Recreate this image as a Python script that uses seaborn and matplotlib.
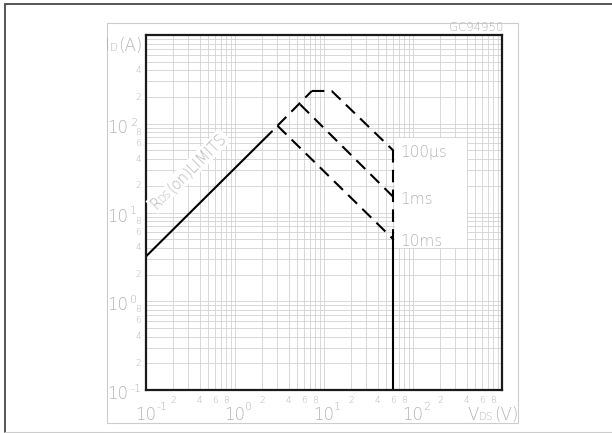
import numpy as np
import pandas as pd
import matplotlib
matplotlib.use("Agg")
import matplotlib.pyplot as plt
from matplotlib.patches import Rectangle
from matplotlib.lines import Line2D
from matplotlib.ticker import LogLocator, NullFormatter
from matplotlib.transforms import IdentityTransform
import seaborn as sns

# ---------------- data ----------------
vds_rds = [0.1, 2.6]
id_rds = [3.2, 82]
vds_rds_ext = [3.0, 7.3]
id_rds_ext = [95, 234]
vds_100us = [7.3, 12.2, 60]
id_100us = [234, 234, 50]
vds_1ms = [5.4, 60]
id_1ms = [165, 15]
vds_10ms = [3.0, 60]
id_10ms = [95, 5.0]
vds_lim_dash = [60, 60]
id_lim_dash = [50, 5.0]
vds_lim_solid = [60, 60]
id_lim_solid = [5.0, 0.1]

curve_names = ["100\u00b5s", "1ms", "10ms"]
curve_end_v = [60, 60, 60]
curve_end_i = [50, 15, 5.0]

x_decades = [0.1, 1, 10, 100]
y_decades = [0.1, 1, 10, 100]
decade_exps = ["-1", "0", "1", "2"]
minor_mults = [2, 4, 6, 8]
y_top_minor_mults = [2, 4]
x_limits = (0.1, 1000)
y_limits = (0.1, 1000)

x_title = [("V", 12), ("DS", 7.5), ("(V)", 12)]
y_title = [("I", 12), ("D", 7.5), ("(A)", 12)]
rds_title = [("R", 10.5), ("DS", 7), ("(on)LIMITS", 10.5)]
code_text = "GC94950"

# ---------------- build table ----------------
segments = [
    ("rds", "solid", vds_rds, id_rds),
    ("rds_ext", "dashed", vds_rds_ext, id_rds_ext),
    ("100us", "dashed", vds_100us, id_100us),
    ("1ms", "dashed", vds_1ms, id_1ms),
    ("10ms", "dashed", vds_10ms, id_10ms),
    ("lim_d", "dashed", vds_lim_dash, id_lim_dash),
    ("lim_s", "solid", vds_lim_solid, id_lim_solid),
]
rows = []
for name, kind, vs, is_ in segments:
    for k, (v, i) in enumerate(zip(vs, is_)):
        rows.append({"seg": name, "kind": kind, "order": k, "V": v, "I": i})
df = pd.DataFrame(rows)

# ---------------- style ----------------
sns.set_style("white")
plt.rcParams["font.family"] = ["DejaVu Sans"]
GRAY = "#b4b4b4"
FW = "light"
W, H = 612, 433

fig = plt.figure(figsize=(W / 100, H / 100), dpi=100)
ax = fig.add_axes([146 / W, 43 / H, 356 / W, 355 / H])
ax.set_xscale("log")
ax.set_yscale("log")
ax.set_xlim(*x_limits)
ax.set_ylim(*y_limits)

# white background behind curve labels
ax.add_patch(Rectangle((0.70, 0.40), 0.202, 0.31, transform=ax.transAxes,
                       facecolor="white", edgecolor="none", zorder=1.5))

sns.lineplot(data=df, x="V", y="I", units="seg", estimator=None, sort=False,
             style="kind", dashes={"solid": "", "dashed": (6, 3.5)},
             color="black", linewidth=1.5, legend=False, ax=ax, zorder=3)

for axis in (ax.xaxis, ax.yaxis):
    axis.set_major_locator(LogLocator(base=10, numticks=10))
    axis.set_minor_locator(LogLocator(base=10, subs=np.arange(2, 10), numticks=10))
    axis.set_minor_formatter(NullFormatter())
ax.grid(True, which="both", color="#d2d2d2", linewidth=0.6, zorder=0)
ax.set_axisbelow(True)
ax.tick_params(which="both", length=0, labelbottom=False, labelleft=False)
ax.set_xlabel("")
ax.set_ylabel("")
for sp in ax.spines.values():
    sp.set_color("#1a1a1a")
    sp.set_linewidth(1.6)
    sp.set_zorder(4)

# ---------------- tick labels ----------------
def ann(text, xy, xycoords, off, size, ha, va):
    ax.annotate(text, xy=xy, xycoords=xycoords, xytext=off,
                textcoords="offset pixels", fontsize=size, color=GRAY,
                ha=ha, va=va, fontweight=FW, annotation_clip=False)

for d, e in zip(x_decades, decade_exps):
    ann("10", (d, 0), ("data", "axes fraction"), (0, -30), 12, "center", "baseline")
    ann(e, (d, 0), ("data", "axes fraction"), (10, -20), 8, "left", "baseline")
    for m in minor_mults:
        ann(str(m), (d * m, 0), ("data", "axes fraction"), (0, -6), 6.5, "center", "top")

for d, e in zip(y_decades, decade_exps):
    ann("10", (0, d), ("axes fraction", "data"), (-18, -9), 12, "right", "baseline")
    ann(e, (0, d), ("axes fraction", "data"), (-16, -2), 8, "left", "baseline")
    mults = y_top_minor_mults if d == y_decades[-1] else minor_mults
    for m in mults:
        ann(str(m), (0, d * m), ("axes fraction", "data"), (-5, 0), 6.5, "right", "center")

# curve labels
for name, v, i in zip(curve_names, curve_end_v, curve_end_i):
    ann(name, (v, i), "data", (7, -7), 11, "left", "baseline")

# ---------------- composite texts (pixel coordinates) ----------------
renderer = fig.canvas.get_renderer()

def seq_text(x, y, pieces, angle=0.0, align="left", bbox=None):
    widths = []
    for s, size in pieces:
        t = fig.text(0, 0, s, fontsize=size, fontweight=FW, transform=IdentityTransform())
        widths.append(t.get_window_extent(renderer).width)
        t.remove()
    total = sum(widths)
    th = np.deg2rad(angle)
    dx, dy = np.cos(th), np.sin(th)
    X, Y = x, H - y
    if align == "right":
        X -= total * dx
        Y -= total * dy
    for (s, size), w in zip(pieces, widths):
        fig.text(X, Y, s, fontsize=size, color=GRAY, fontweight=FW,
                 rotation=angle, rotation_mode="anchor", ha="left", va="baseline",
                 transform=IdentityTransform(), zorder=5, bbox=bbox)
        X += w * dx
        Y += w * dy

seq_text(142, 51, y_title, align="right")
seq_text(518, 420, x_title, align="right")
seq_text(156, 210, rds_title, angle=45,
         bbox=dict(facecolor="white", edgecolor="none", pad=1.0))
fig.text(503, H - 31, code_text, fontsize=8.5, color=GRAY, ha="right", va="baseline",
         fontweight=FW, transform=IdentityTransform())

# ---------------- frames ----------------
fig.add_artist(Rectangle((107 / W, 1 - 423 / H), (518 - 107) / W, (423 - 23) / H,
                         transform=fig.transFigure, fill=False,
                         edgecolor="#cccccc", linewidth=0.8))
fig.add_artist(Line2D([5 / W, 5 / W], [1 - 4 / H, 1 - 432 / H], transform=fig.transFigure,
                      color="#555555", linewidth=1.4))
fig.add_artist(Line2D([5 / W, 1.0], [1 - 4 / H, 1 - 4 / H], transform=fig.transFigure,
                      color="#555555", linewidth=1.4))
fig.add_artist(Line2D([5 / W, 1.0], [1 - 432 / H, 1 - 432 / H], transform=fig.transFigure,
                      color="#cccccc", linewidth=0.8))

fig.savefig("out.png", dpi=100)
